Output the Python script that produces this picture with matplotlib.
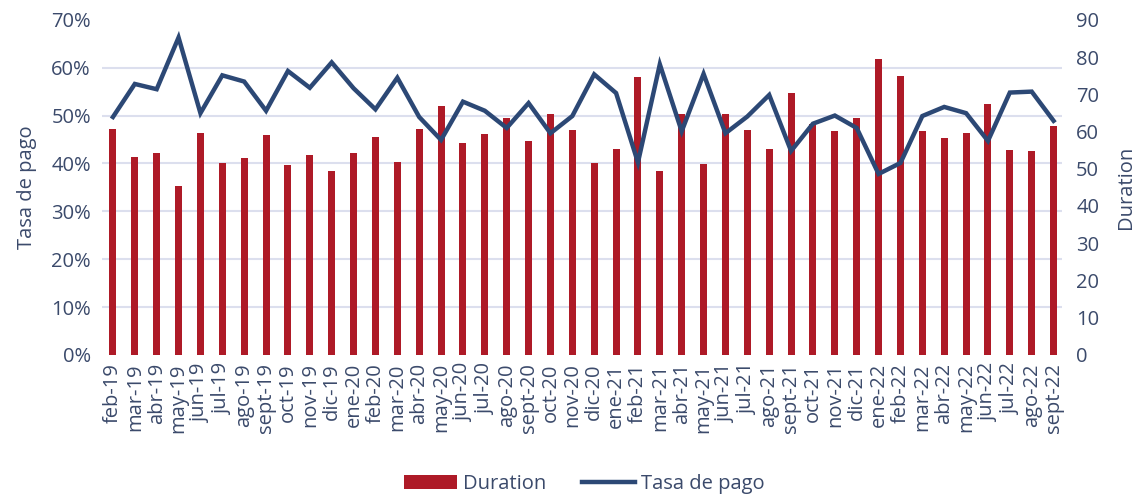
import numpy as np
import matplotlib.pyplot as plt
from matplotlib.ticker import PercentFormatter

# Datos
meses = ["feb-19", "mar-19", "abr-19", "may-19", "jun-19", "jul-19", "ago-19", "sept-19",
         "oct-19", "nov-19", "dic-19", "ene-20", "feb-20", "mar-20", "abr-20", "may-20",
         "jun-20", "jul-20", "ago-20", "sept-20", "oct-20", "nov-20", "dic-20", "ene-21",
         "feb-21", "mar-21", "abr-21", "may-21", "jun-21", "jul-21", "ago-21", "sept-21",
         "oct-21", "nov-21", "dic-21", "ene-22", "feb-22", "mar-22", "abr-22", "may-22",
         "jun-22", "jul-22", "ago-22", "sept-22"]

duration = [60.7, 53.2, 54.3, 45.4, 59.6, 51.5, 52.8, 59.0, 50.9, 53.8, 49.3, 54.1,
            58.6, 51.9, 60.6, 66.9, 57.0, 59.3, 63.7, 57.4, 64.7, 60.3, 51.5, 55.2,
            74.6, 49.4, 64.7, 51.3, 64.8, 60.4, 55.3, 70.4, 62.0, 60.2, 63.7, 79.5,
            75.0, 60.2, 58.3, 59.6, 67.3, 55.0, 54.8, 61.5]

tasa_pago = [49.7, 56.6, 55.5, 66.3, 50.5, 58.4, 57.1, 51.0, 59.3, 55.8, 61.1, 55.7,
             51.3, 57.9, 49.7, 44.9, 52.9, 51.0, 47.4, 52.6, 46.3, 49.9, 58.6, 54.7,
             40.2, 60.7, 46.7, 58.7, 46.3, 49.8, 54.3, 42.6, 48.3, 50.0, 47.4, 37.8,
             40.1, 49.9, 51.8, 50.5, 44.7, 54.8, 55.0, 48.9]

rojo = "#AE1A27"
azul = "#2C4875"
texto = "#3B4A6B"
rejilla = "#DCDFEE"

plt.rcParams['font.family'] = ['Open Sans', 'DejaVu Sans']

fig = plt.figure(figsize=(11.46, 4.95), dpi=100)
ax = fig.add_axes([0.089, 0.283, 0.838, 0.677])
ax2 = ax.twinx()

x = np.arange(len(meses))

# Barras (eje derecho) y línea (eje izquierdo)
barras = ax2.bar(x, duration, width=0.32, color=rojo, label="Duration", zorder=2)
ax.set_zorder(ax2.get_zorder() + 1)
ax.patch.set_visible(False)
linea, = ax.plot(x, tasa_pago, color=azul, lw=3.2, solid_joinstyle="miter",
                 label="Tasa de pago", zorder=3)

ax.set_ylim(0, 70)
ax.set_yticks(range(0, 71, 10))
ax.yaxis.set_major_formatter(PercentFormatter(decimals=0))
ax2.set_ylim(0, 90)
ax2.set_yticks(range(0, 91, 10))
ax.set_xlim(-0.5, len(meses) - 0.6)

# la rejilla sigue las marcas del eje izquierdo, pero detrás de las barras
ax2.set_yticks(np.arange(0, 71, 10) * 90 / 70, minor=True)
ax2.yaxis.grid(True, which="minor", color=rejilla, lw=1.5)
ax2.yaxis.grid(False, which="major")
ax2.set_axisbelow(True)

ax.set_xticks(x)
ax.set_xticklabels(meses, rotation=90)

for a in (ax, ax2):
    for s in a.spines.values():
        s.set_visible(False)
    a.tick_params(which="both", length=0, labelsize=14.5, colors=texto)
ax.tick_params(axis="x", pad=6)
ax.tick_params(axis="y", pad=8)
ax2.tick_params(axis="y", pad=10)

ax.set_ylabel("Tasa de pago", color=texto, fontsize=14.5, labelpad=10)
ax2.set_ylabel("Duration", color=texto, fontsize=14.5, labelpad=12)

fig.legend([barras, linea], ["Duration", "Tasa de pago"], loc="lower center",
           bbox_to_anchor=(0.51, -0.035), ncol=2, frameon=False, fontsize=14.5,
           labelcolor=texto, handlelength=2.6, handletextpad=0.3, columnspacing=1.8)

fig.savefig("out.png", dpi=100)
